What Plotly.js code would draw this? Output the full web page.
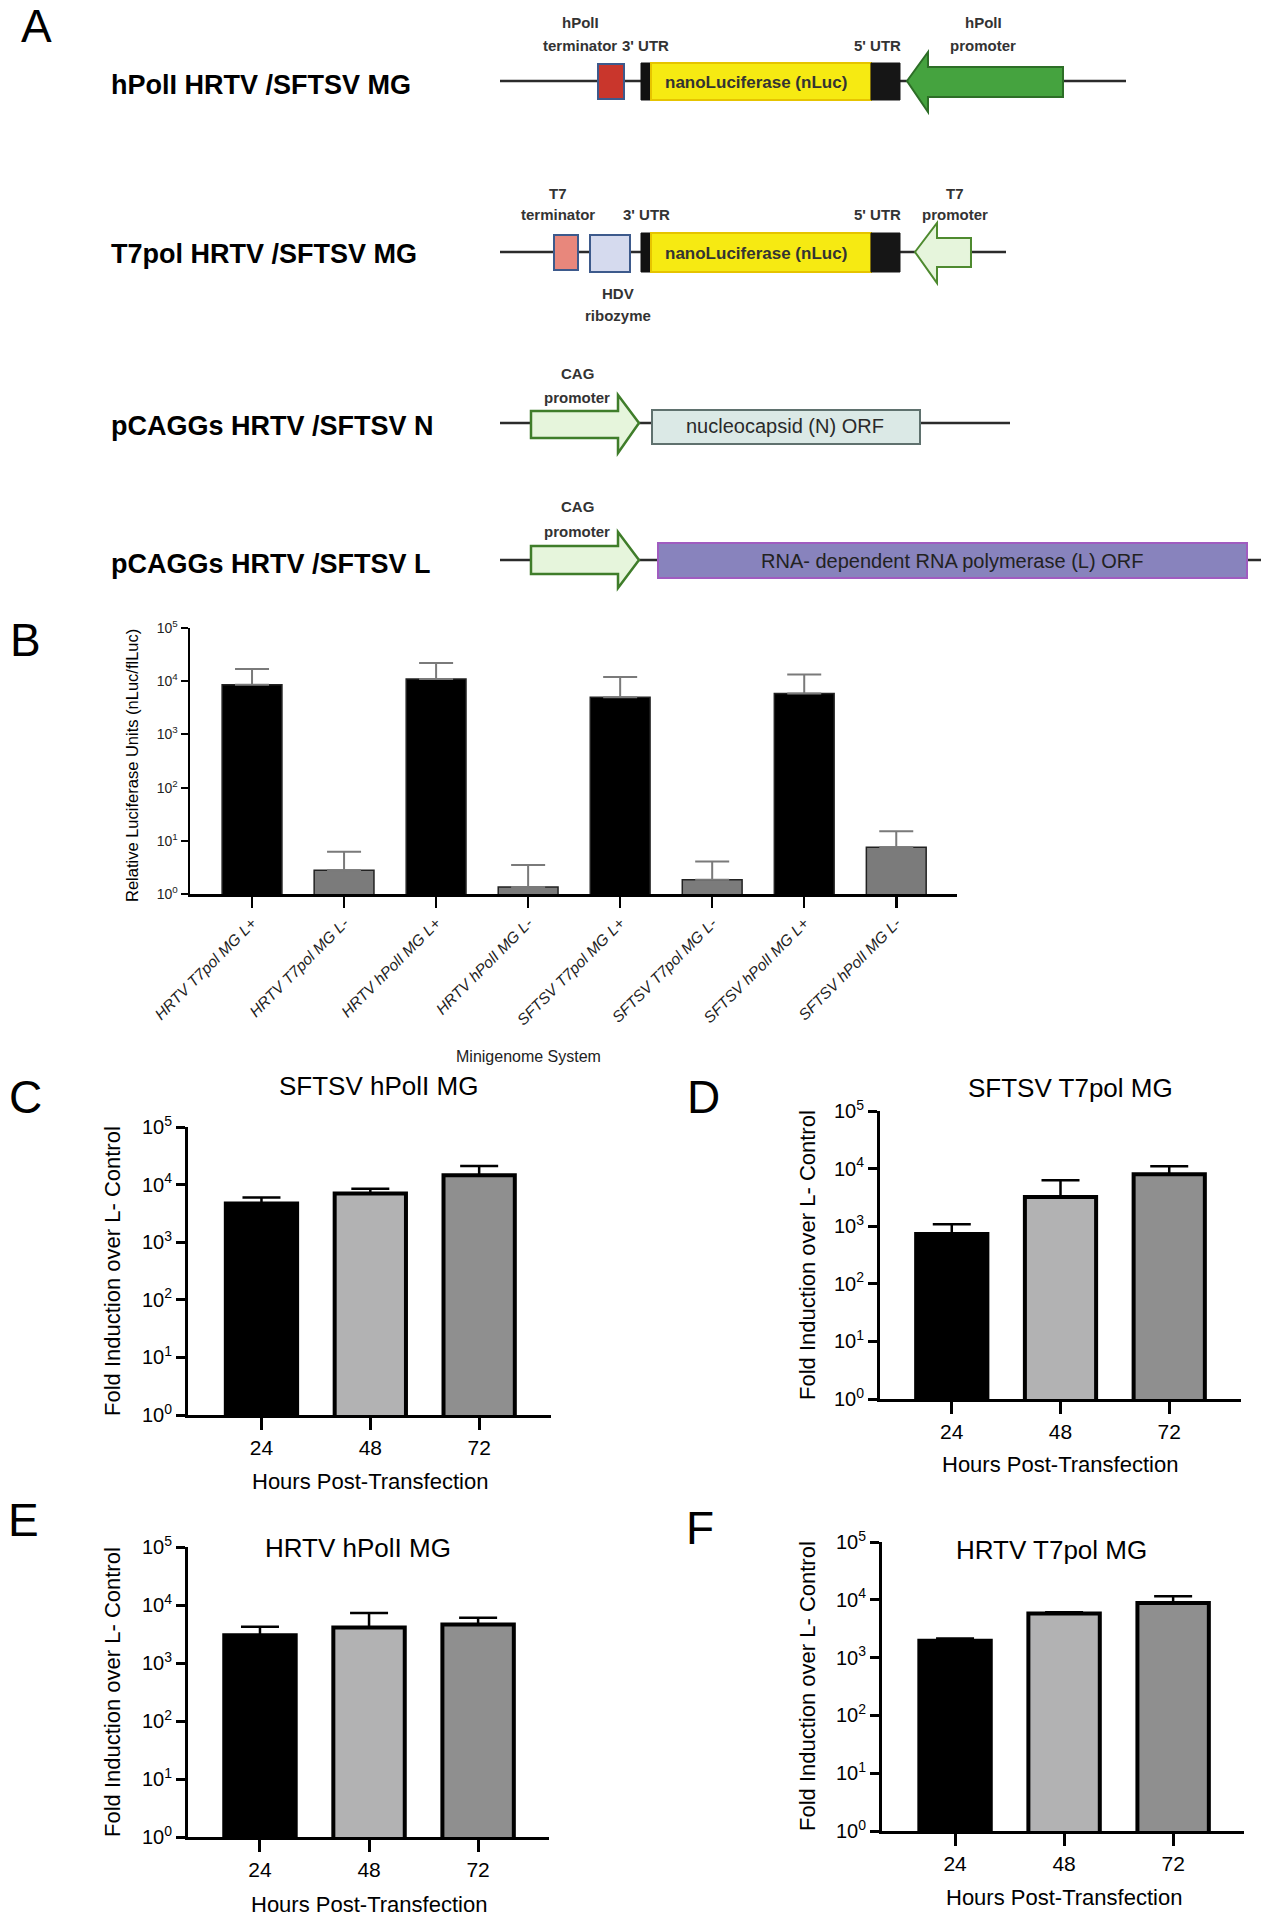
<!DOCTYPE html>
<html><head><meta charset="utf-8">
<script src="https://cdn.plot.ly/plotly-3.0.1.min.js"></script>
<style>html,body{margin:0;padding:0;background:#fff}#chart{width:1261px;height:1920px}</style>
</head><body><div id="chart"></div>
<script>
// ---------------- DATA ----------------
const minigenomeSystems = ['HRTV T7pol MG L+', 'HRTV T7pol MG L-', 'HRTV hPolI MG L+', 'HRTV hPolI MG L-',
  'SFTSV T7pol MG L+', 'SFTSV T7pol MG L-', 'SFTSV hPolI MG L+', 'SFTSV hPolI MG L-'];
const rluMean   = [8600, 2.8, 11000, 1.35, 5000, 1.86, 5900, 7.6];
const rluErrTop = [17000, 6.2, 22000, 3.5, 12000, 4.1, 13300, 15.1];

const hours = ['24', '48', '72'];
const sftsvHpolMean   = [4700, 7000, 14500];
const sftsvHpolErrTop = [6000, 8500, 21000];
const sftsvT7Mean     = [730, 3200, 8000];
const sftsvT7ErrTop   = [1080, 6300, 11000];
const hrtvHpolMean    = [3000, 4100, 4600];
const hrtvHpolErrTop  = [4200, 7300, 6000];
const hrtvT7Mean      = [1950, 5800, 8800];
const hrtvT7ErrTop    = [2150, 6100, 11500];

const logTickVals = [1, 10, 100, 1000, 10000, 100000];
const logTickText = ['10<sup>0</sup>', '10<sup>1</sup>', '10<sup>2</sup>', '10<sup>3</sup>', '10<sup>4</sup>', '10<sup>5</sup>'];

// ---------------- HELPERS ----------------
const W = 1261, H = 1920;
const FONT = 'Liberation Sans, Arial, Helvetica, sans-serif';
const px = x => x / W;
const py = y => 1 - y / H;

const shapes = [];
const annotations = [];

function hline(x0, x1, y, color, w) {
  shapes.push({type: 'line', xref: 'paper', yref: 'paper', x0: px(x0), x1: px(x1), y0: py(y), y1: py(y),
    line: {color: color, width: w}});
}
function rect(x0, y0, x1, y1, fill, lc, lw) {
  shapes.push({type: 'rect', xref: 'paper', yref: 'paper', x0: px(x0), x1: px(x1), y0: py(y1), y1: py(y0),
    fillcolor: fill, line: {color: lc, width: lw}});
}
function poly(pts, fill, lc, lw) {
  const d = pts.map((p, i) => (i ? 'L' : 'M') + px(p[0]).toFixed(5) + ',' + py(p[1]).toFixed(5)).join(' ') + ' Z';
  shapes.push({type: 'path', xref: 'paper', yref: 'paper', path: d, fillcolor: fill, line: {color: lc, width: lw}});
}
function txt(x, y, text, size, opts) {
  opts = opts || {};
  annotations.push(Object.assign({
    xref: 'paper', yref: 'paper', x: px(x), y: py(y), text: text, showarrow: false,
    xanchor: 'center', yanchor: 'middle',
    font: {family: FONT, size: size, color: opts.color || '#000', weight: opts.weight || 'normal'}
  }, opts.extra || {}));
}

// ---------------- PANEL A (construct diagrams) ----------------
const LINE_C = '#2b2b2b';
const SMALL = 15, SMALLC = '#333';
// Row 1 : hPolI MG
hline(500, 1126, 81, LINE_C, 2.5);
rect(598, 64, 624, 99, '#c9362c', '#3d5a8c', 2);
rect(641, 63, 651, 100, '#111', '#111', 1);
rect(651, 63, 871, 100, '#f6ea12', '#e6c400', 2);
rect(871, 63, 900, 100, '#161616', '#161616', 1);
poly([[907, 81], [928, 52], [928, 67], [1063, 67], [1063, 97], [928, 97], [928, 112]], '#45a33f', '#2d6e27', 2);
txt(756, 82, 'nanoLuciferase (nLuc)', 17, {weight: 'bold', color: '#333'});
txt(580, 23, 'hPolI', SMALL, {weight: 'bold', color: SMALLC});
txt(580, 45, 'terminator', SMALL, {weight: 'bold', color: SMALLC});
txt(645, 45, "3' UTR", SMALL, {weight: 'bold', color: SMALLC});
txt(877, 45, "5' UTR", SMALL, {weight: 'bold', color: SMALLC});
txt(983, 23, 'hPolI', SMALL, {weight: 'bold', color: SMALLC});
txt(983, 45, 'promoter', SMALL, {weight: 'bold', color: SMALLC});

// Row 2 : T7pol MG
hline(500, 1006, 252, LINE_C, 2.5);
rect(554, 235, 578, 270, '#e8877c', '#3d5a8c', 2);
rect(590, 235, 630, 272, '#d5daee', '#3d5a8c', 2);
rect(641, 233, 651, 272, '#111', '#111', 1);
rect(651, 233, 871, 272, '#f6ea12', '#e6c400', 2);
rect(871, 233, 900, 272, '#161616', '#161616', 1);
poly([[915, 252], [937, 223], [937, 238], [971, 238], [971, 267], [937, 267], [937, 283]], '#e6f5dc', '#4e8a2f', 2);
txt(756, 253, 'nanoLuciferase (nLuc)', 17, {weight: 'bold', color: '#333'});
txt(558, 193, 'T7', SMALL, {weight: 'bold', color: SMALLC});
txt(558, 214, 'terminator', SMALL, {weight: 'bold', color: SMALLC});
txt(646, 214, "3' UTR", SMALL, {weight: 'bold', color: SMALLC});
txt(877, 214, "5' UTR", SMALL, {weight: 'bold', color: SMALLC});
txt(955, 193, 'T7', SMALL, {weight: 'bold', color: SMALLC});
txt(955, 214, 'promoter', SMALL, {weight: 'bold', color: SMALLC});
txt(618, 293, 'HDV', SMALL, {weight: 'bold', color: SMALLC});
txt(618, 315, 'ribozyme', SMALL, {weight: 'bold', color: SMALLC});

// Row 3 : pCAGGs N
hline(500, 1010, 423, LINE_C, 2.5);
poly([[531, 411], [618, 411], [618, 395], [639, 423], [618, 453], [618, 438], [531, 438]], '#e6f5dc', '#3f7d2a', 2.5);
rect(652, 410, 920, 444, '#dbe9e6', '#5f716e', 2);
txt(785, 426, 'nucleocapsid (N) ORF', 20, {color: '#2a2a2a'});
txt(577, 373, 'CAG', SMALL, {weight: 'bold', color: SMALLC});
txt(577, 397, 'promoter', SMALL, {weight: 'bold', color: SMALLC});

// Row 4 : pCAGGs L
hline(500, 1261, 560, LINE_C, 2.5);
poly([[531, 546], [618, 546], [618, 532], [639, 560], [618, 588], [618, 574], [531, 574]], '#e6f5dc', '#3f7d2a', 2.5);
rect(658, 543, 1247, 578, '#8883bd', '#a05cc0', 2);
txt(952, 561, 'RNA- dependent RNA polymerase (L) ORF', 20, {color: '#222'});
txt(577, 507, 'CAG', SMALL, {weight: 'bold', color: SMALLC});
txt(577, 531, 'promoter', SMALL, {weight: 'bold', color: SMALLC});

// Row labels
const rowLabel = (y, t) => txt(109, y, t, 27, {weight: 'bold', extra: {xanchor: 'left'}});
rowLabel(85, 'hPolI HRTV /SFTSV MG');
rowLabel(254, 'T7pol HRTV /SFTSV MG');
rowLabel(426, 'pCAGGs HRTV /SFTSV N');
rowLabel(564, 'pCAGGs HRTV /SFTSV L');

// Panel letters
const letter = (x, y, t) => txt(x, y, t, 46, {});
letter(36, 26, 'A');
letter(25, 640, 'B');
letter(25, 1097, 'C');
letter(703, 1097, 'D');
letter(24, 1520, 'E');
letter(700, 1528, 'F');

// ---------------- PANEL B ----------------
const colorsB = minigenomeSystems.map((c, i) => i % 2 === 0 ? '#000000' : '#7b7b7b');
const traces = [];
traces.push({
  type: 'bar', x: minigenomeSystems, y: rluMean, xaxis: 'x', yaxis: 'y', width: 0.65,
  marker: {color: colorsB, line: {color: '#222', width: 1.5}},
  error_y: {type: 'data', symmetric: false, array: rluErrTop.map((t, i) => t - rluMean[i]),
    arrayminus: rluMean.map(() => 0), color: '#7a7a7a', thickness: 2, width: 17},
  hoverinfo: 'skip'
});

const layout = {
  width: W, height: H, autosize: false, showlegend: false,
  margin: {l: 0, r: 0, t: 0, b: 0}, paper_bgcolor: '#fff', plot_bgcolor: 'rgba(0,0,0,0)',
  font: {family: FONT, color: '#000'},
  bargap: 0.3,
  xaxis: {
    domain: [px(190), px(957)], anchor: 'y', type: 'category', range: [-0.674, 7.66],
    showline: true, linewidth: 3, linecolor: '#000', ticks: 'outside', ticklen: 11, tickwidth: 2.5, tickcolor: '#000',
    tickangle: -45, tickvals: minigenomeSystems, ticktext: minigenomeSystems.map(s => '<i>' + s + '</i>'),
    tickfont: {family: FONT, size: 15.5, color: '#222'}, showgrid: false, zeroline: false, fixedrange: true
  },
  yaxis: {
    domain: [py(894), py(628)], anchor: 'x', type: 'log', range: [0, 5],
    tickvals: logTickVals, ticktext: logTickText,
    showline: true, linewidth: 2.5, linecolor: '#000', ticks: 'outside', ticklen: 7, tickwidth: 2, tickcolor: '#000',
    tickfont: {family: FONT, size: 14, color: '#222'}, showgrid: false, zeroline: false, fixedrange: true
  },
  shapes: shapes, annotations: annotations
};
txt(132, 766, 'Relative Luciferase Units (nLuc/flLuc)', 16.5, {extra: {textangle: -90}});
txt(528, 1056, 'Minigenome System', 16, {color: '#222'});

// ---------------- PANELS C-F ----------------
const hourColors = ['#000000', '#b2b2b3', '#8f8f8f'];
function addPanel(n, mean, errTop, box, title, titlePos, ytPos, xtPos) {
  const xa = 'x' + n, ya = 'y' + n;
  traces.push({
    type: 'bar', x: hours, y: mean, xaxis: xa, yaxis: ya, width: 0.655,
    marker: {color: hourColors, line: {color: '#000', width: 4}},
    error_y: {type: 'data', symmetric: false, array: errTop.map((t, i) => t - mean[i]),
      arrayminus: mean.map(() => 0), color: '#000', thickness: 2.5, width: 19},
    hoverinfo: 'skip'
  });
  layout['xaxis' + n] = {
    domain: [px(box.x0), px(box.x1)], anchor: ya, type: 'category', range: box.xr,
    showline: true, linewidth: 3, linecolor: '#000', ticks: 'outside', ticklen: 12, tickwidth: 3, tickcolor: '#000',
    tickfont: {family: FONT, size: 21, color: '#000'}, showgrid: false, zeroline: false, fixedrange: true
  };
  layout['yaxis' + n] = {
    domain: [py(box.y1), py(box.y0)], anchor: xa, type: 'log', range: [0, 5],
    tickvals: logTickVals, ticktext: logTickText,
    showline: true, linewidth: 3, linecolor: '#000', ticks: 'outside', ticklen: 9, tickwidth: 3, tickcolor: '#000',
    tickfont: {family: FONT, size: 20, color: '#000'}, showgrid: false, zeroline: false, fixedrange: true
  };
  txt(titlePos[0], titlePos[1], title, 26, {});
  txt(ytPos[0], ytPos[1], 'Fold Induction over L- Control', 22, {extra: {textangle: -90}});
  txt(xtPos[0], xtPos[1], 'Hours Post-Transfection', 22, {});
}
addPanel(2, sftsvHpolMean, sftsvHpolErrTop, {x0: 188, x1: 551, y0: 1127, y1: 1415, xr: [-0.675, 2.66]},
  'SFTSV hPolI MG', [378, 1086], [112, 1271], [370, 1481]);
addPanel(3, sftsvT7Mean, sftsvT7ErrTop, {x0: 880, x1: 1241, y0: 1111, y1: 1399, xr: [-0.66, 2.66]},
  'SFTSV T7pol MG', [1070, 1088], [807, 1255], [1060, 1464]);
addPanel(4, hrtvHpolMean, hrtvHpolErrTop, {x0: 188, x1: 549, y0: 1547, y1: 1837, xr: [-0.66, 2.65]},
  'HRTV hPolI MG', [358, 1548], [112, 1692], [369, 1904]);
addPanel(5, hrtvT7Mean, hrtvT7ErrTop, {x0: 882, x1: 1244, y0: 1542, y1: 1831, xr: [-0.67, 2.65]},
  'HRTV T7pol MG', [1051, 1550], [807, 1686], [1064, 1897]);

Plotly.newPlot('chart', traces, layout, {staticPlot: true, displayModeBar: false});
</script>
</body></html>
